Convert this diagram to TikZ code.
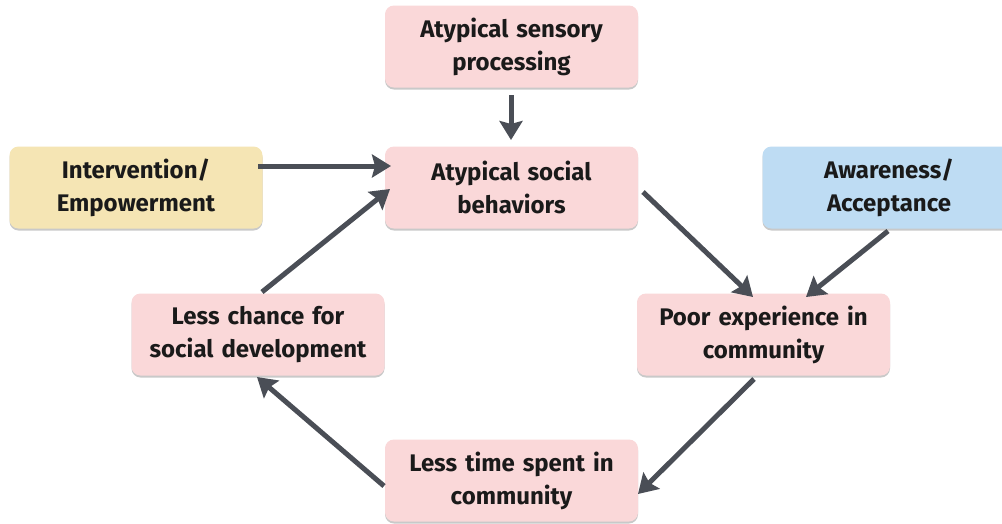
\documentclass[tikz,border=0pt]{standalone}
\usepackage{fontspec}
\setmainfont{Fira Sans}
\usetikzlibrary{arrows.meta,shadows}
\definecolor{pinkbox}{HTML}{FAD8D9}
\definecolor{yellowbox}{HTML}{F5E5B4}
\definecolor{bluebox}{HTML}{BEDCF3}
\definecolor{arrowgray}{HTML}{4A4E56}
\definecolor{txt}{HTML}{1A1A1A}
\tikzset{
  box/.style={rounded corners=9pt, minimum width=253pt, minimum height=82pt,
    text width=248pt, align=center, inner sep=0pt, text=txt,
    font=\fontsize{24}{33}\selectfont\bfseries,
    drop shadow={shadow xshift=0pt, shadow yshift=-2pt, opacity=0.35, fill=black!60}},
  pinkb/.style={box, fill=pinkbox},
  yellowb/.style={box, fill=yellowbox},
  blueb/.style={box, fill=bluebox},
  conn/.style={draw=arrowgray, line width=5pt,
    -{Stealth[length=19pt,width=23pt,inset=3pt]}}
}
\begin{document}
\begin{tikzpicture}[x=1pt,y=-1pt]
\useasboundingbox (0,0) rectangle (1002,523);
\fill[white] (0,0) rectangle (1002,523);
\node[pinkb] (A) at (511.5,46.5) {Atypical sensory\\processing};
\node[pinkb] (B) at (511.5,187.5) {Atypical social\\behaviors};
\node[yellowb] (I) at (136,187.5) {Intervention/\\Empowerment};
\node[blueb] (W) at (889,187.5) {Awareness/\\Acceptance};
\node[pinkb] (P) at (763.5,334.5) {Poor experience in\\community};
\node[pinkb] (L) at (258,334.5) {Less chance for\\social development};
\node[pinkb] (T) at (511.5,480.5) {Less time spent in\\community};
\coordinate (a1) at (511,95);
\coordinate (a2) at (511,140);
\coordinate (i1) at (258,166);
\coordinate (i2) at (391,166);
\coordinate (l1) at (262,292);
\coordinate (l2) at (390,189);
\coordinate (b1) at (643,192);
\coordinate (b2) at (753,297);
\coordinate (w1) at (888,231);
\coordinate (w2) at (806,297);
\coordinate (p1) at (754,379);
\coordinate (p2) at (638,494);
\coordinate (t1) at (384,486);
\coordinate (t2) at (257,377);
\draw[conn] (a1) -- (a2);
\draw[conn] (i1) -- (i2);
\draw[conn] (l1) -- (l2);
\draw[conn] (b1) -- (b2);
\draw[conn] (w1) -- (w2);
\draw[conn] (p1) -- (p2);
\draw[conn] (t1) -- (t2);
\end{tikzpicture}
\end{document}
